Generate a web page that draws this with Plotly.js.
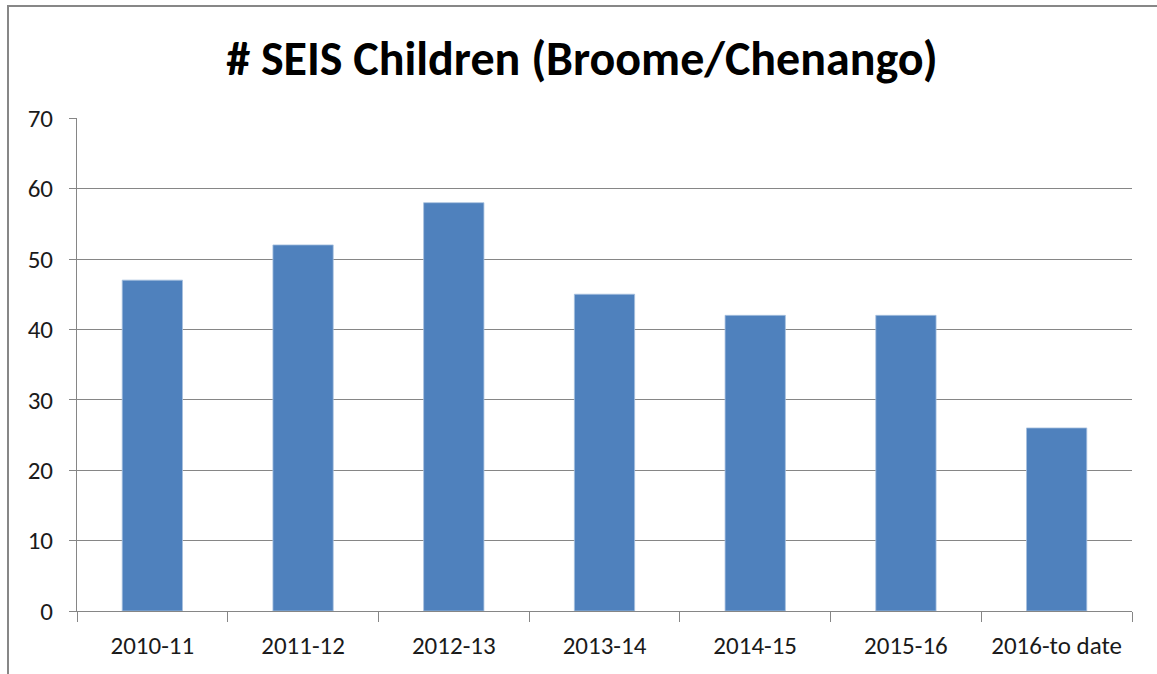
<!DOCTYPE html>
<html><head><meta charset="utf-8">
<script src="https://cdn.plot.ly/plotly-3.0.1.min.js"></script>
<style>
html,body{margin:0;padding:0;width:1157px;height:674px;overflow:hidden;background:#fff;}
#frame{position:absolute;left:7px;top:5px;width:1160px;height:700px;border:2px solid #878787;box-sizing:border-box;}
#chart{position:absolute;left:0;top:0;width:1157px;height:674px;}
</style></head>
<body>
<div id="frame"></div>
<div id="chart"></div>
<script>
const categories = ["2010-11","2011-12","2012-13","2013-14","2014-15","2015-16","2016-to date"];
const childCounts = [47, 52, 58, 45, 42, 42, 26];
const yTicks = [0,10,20,30,40,50,60,70];

const font = "Carlito, 'Open Sans', sans-serif";
Plotly.newPlot('chart', [{
  type:'bar', x:categories, y:childCounts,
  marker:{color:'#4F81BD', line:{color:'#A7C0DE', width:0.8}},
  hoverinfo:'none'
}], {
  width:1157, height:674,
  font:{family:font, size:25, color:'#000'},
  paper_bgcolor:'rgba(0,0,0,0)', plot_bgcolor:'rgba(0,0,0,0)',
  margin:{l:77, r:25, t:118, b:63},
  bargap:0.6,
  showlegend:false,
  title:{text:'<b># SEIS Children (Broome/Chenango)</b>', x:0.503, xanchor:'center', y:0.913, yanchor:'middle',
         font:{family:font, size:48, color:'#000'}},
  xaxis:{type:'category', tickson:'boundaries', ticks:'outside', ticklen:10, tickcolor:'#868686',
         showline:true, linecolor:'#868686', linewidth:1, showgrid:false,
         tickfont:{family:font, size:25, color:'#1a1a1a'}, ticklabelstandoff:12},
  yaxis:{range:[0,70.03], tickvals:yTicks, ticks:'outside', ticklen:7, tickcolor:'#868686',
         showline:true, linecolor:'#868686', linewidth:1, showgrid:true, gridcolor:'#868686', gridwidth:1,
         zeroline:false, tickfont:{family:font, size:25, color:'#1a1a1a'}, ticklabelstandoff:11}
}, {displayModeBar:false, staticPlot:true});
</script>
</body></html>
